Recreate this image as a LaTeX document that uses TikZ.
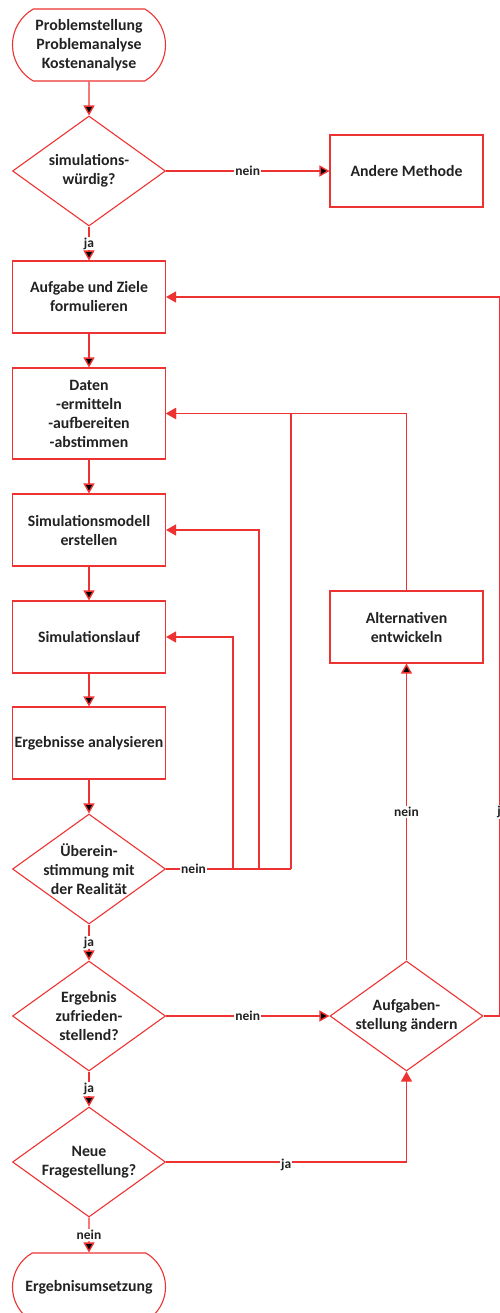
\documentclass[tikz,border=0pt]{standalone}
\usepackage{fontspec}
\setmainfont{Carlito}
\usetikzlibrary{shapes.geometric,shapes.misc,arrows.meta}
\definecolor{flowred}{RGB}{238,50,50}
\definecolor{flowtext}{RGB}{34,34,34}

\begin{document}
\begin{tikzpicture}[
  >={Triangle[length=10pt,width=11pt]},
  x=1pt, y=-1pt,
  font=\bfseries\fontsize{15.8}{19}\selectfont, text=flowtext
]
  \tikzstyle{box}=[draw=flowred,line width=1.1pt,rectangle,minimum width=153pt,minimum height=72pt,align=center,inner sep=0pt]
  \tikzstyle{term}=[box,rounded rectangle,rounded rectangle arc length=120]
  \tikzstyle{decision}=[draw=flowred,line width=1.1pt,diamond,minimum width=153pt,minimum height=110pt,inner sep=0pt]
  \tikzstyle{dtext}=[align=center,inner sep=0pt]
  \tikzstyle{conn}=[draw=flowred,line width=1.4pt]
  \tikzstyle{lbl}=[fill=white,inner sep=1pt,font=\bfseries\fontsize{13.5}{15}\selectfont]

  \useasboundingbox (0,0) rectangle (500,1313);

  % Main column (top -> bottom)
  \node[term]                  (T0) at (89,45)   {Problemstellung\\Problemanalyse\\Kostenanalyse};
  \node[decision, label={[dtext]center:simulations-\\würdig?}] (Q1) at (89,171) {};
  \node[box]                   (B1) at (89,297)  {Aufgabe und Ziele\\formulieren};
  \node[box,minimum height=91pt] (B2) at (89,413.5) {Daten\\-ermitteln\\-aufbereiten\\-abstimmen};
  \node[box]                   (B3) at (89,530)  {Simulationsmodell\\erstellen};
  \node[box]                   (B4) at (89,637)  {Simulationslauf};
  \node[box]                   (B5) at (89,743)  {Ergebnisse analysieren};
  \node[decision, label={[dtext]center:Überein-\\stimmung mit\\der Realität}] (Q2) at (89,869) {};
  \node[decision, label={[dtext]center:Ergebnis\\zufrieden-\\stellend?}] (Q3) at (89,1016) {};
  \node[decision, label={[dtext]center:Neue\\Fragestellung?}] (Q5) at (89,1162) {};
  \node[term,minimum height=68pt] (T1) at (89,1287) {Ergebnisumsetzung};

  % Right column
  \node[box]                   (B0) at (406.5,171) {Andere Methode};
  \node[box]                   (B6) at (406.5,627) {Alternativen\\entwickeln};
  \node[decision, label={[dtext]center:Aufgaben-\\stellung ändern}] (Q4) at (406.5,1016) {};

  % Bend points of the feedback lines
  \coordinate (J1) at (233,869);
  \coordinate (J2) at (259,869);
  \coordinate (J3) at (291,869);
  \coordinate (RE) at (499.5,1016);

  % Edges
  \path[conn,->] (T0) edge (Q1);
  \path[conn,->] (Q1) edge node[lbl] {nein} (B0);
  \path[conn,->] (Q1) edge node[lbl] {ja} (B1);
  \path[conn,->] (B1) edge (B2);
  \path[conn,->] (B2) edge (B3);
  \path[conn,->] (B3) edge (B4);
  \path[conn,->] (B4) edge (B5);
  \path[conn,->] (B5) edge (Q2);

  \draw[conn] (Q2.east) -- node[lbl,pos=0.22] {nein} (J3);
  \draw[conn,->] (J1) |- (B4.east);
  \draw[conn,->] (J2) |- (B3.east);
  \draw[conn,->] (J3) |- (B2.east);

  \path[conn,->] (Q2) edge node[lbl] {ja} (Q3);
  \path[conn,->] (Q3) edge node[lbl] {nein} (Q4);
  \path[conn,->] (Q3) edge node[lbl] {ja} (Q5);
  \path[conn,->] (Q5) edge node[lbl] {nein} (T1);

  \draw[conn,->] (Q5.east) -| node[lbl,pos=0.25,yshift=-3pt] {ja} (Q4.south);
  \path[conn,->] (Q4) edge node[lbl] {nein} (B6);
  \draw[conn,->] (B6.north) |- (B2.east);

  \draw[conn,->] (Q4.east) -- (RE) |- node[lbl,pos=0.142,xshift=3pt] {ja} (B1.east);
\end{tikzpicture}
\end{document}
